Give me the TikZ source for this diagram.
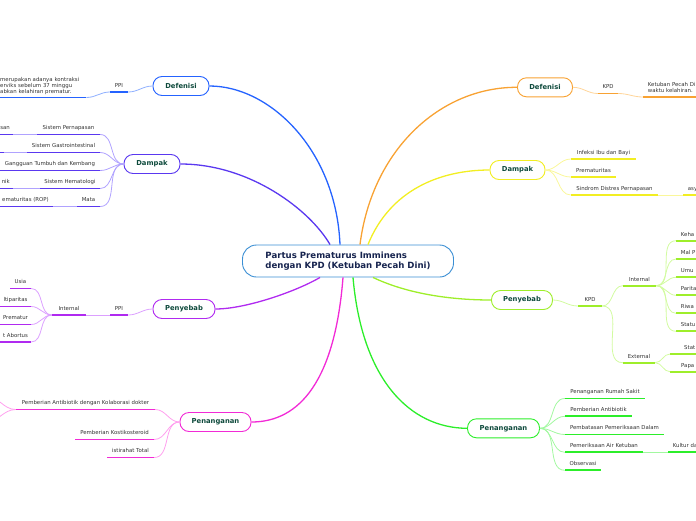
\documentclass[tikz,border=0pt]{standalone}
\usepackage{fontspec}
\setmainfont{DejaVu Sans}
\definecolor{topictext}{HTML}{0E4A3C}
\definecolor{leaftext}{HTML}{333333}
\definecolor{ctrtext}{HTML}{17244F}
\definecolor{ctrline}{HTML}{3B8FD4}
\definecolor{cDefL}{HTML}{2563FF}\definecolor{cDefLt}{HTML}{8FB0FF}
\definecolor{cDampL}{HTML}{5A38F0}\definecolor{cDampLt}{HTML}{B0A2FF}
\definecolor{cPenyL}{HTML}{B02AF0}\definecolor{cPenyLt}{HTML}{DCA0FF}
\definecolor{cPanL}{HTML}{F22AD6}\definecolor{cPanLt}{HTML}{FFA0EE}
\definecolor{cDefR}{HTML}{F8A233}\definecolor{cDefRt}{HTML}{FFD59A}
\definecolor{cDampR}{HTML}{F2EE22}\definecolor{cDampRt}{HTML}{FAF79A}
\definecolor{cPenyR}{HTML}{9EEE2A}\definecolor{cPenyRt}{HTML}{D2FBA0}
\definecolor{cPanR}{HTML}{2CEE2A}\definecolor{cPanRt}{HTML}{A2F8A0}

\begin{document}
\begin{tikzpicture}[x=1pt,y=-1pt,
    topic/.style={draw=#1,fill=white,rounded corners=9pt,minimum height=19pt,line width=0.9pt,font=\fontsize{6.8}{8}\selectfont\bfseries,text=topictext},
    leaf/.style={inner xsep=0pt,inner ysep=3.3pt,text height=3.9pt,text depth=1.2pt,font=\fontsize{5.4}{6}\selectfont,text=leaftext,anchor=south},
    edgeleaf/.style={leaf,anchor=south west,inner xsep=4.7pt,text width=40pt,align=left},
    block/.style={inner ysep=2.6pt,font=\fontsize{5.4}{6}\selectfont,text=leaftext,align=left,anchor=south west},
    ulin/.style={fill=#1,draw=none},
    branch/.style={draw=#1,line width=1.3pt},
    twig/.style={draw=#1,line width=0.8pt}]
        \useasboundingbox (0,0) rectangle (696,520);
        \clip (0,0) rectangle (696,520);

        \node[draw=ctrline,fill=white,line width=0.9pt,rounded corners=14pt,minimum width=211pt,minimum height=32pt,align=left,text=ctrtext,font=\fontsize{8.6}{10}\selectfont\bfseries] (ctr) at (348,261) {Partus Prematurus Imminens\\dengan KPD (Ketuban Pecah Dini)};

        \node[topic=cDefL,minimum width=56pt] (defL) at (181,86) {Defenisi};
        \node[topic=cDampL,minimum width=56pt] (dampL) at (152,164) {Dampak};
        \node[topic=cPenyL,minimum width=62pt] (penyL) at (184,309) {Penyebab};
        \node[topic=cPanL,minimum width=71pt] (panL) at (215.5,422) {Penanganan};
        \node[topic=cDefR,minimum width=55pt] (defR) at (545,87.3) {Defenisi};
        \node[topic=cDampR,minimum width=55pt] (dampR) at (517.5,170) {Dampak};
        \node[topic=cPenyR,minimum width=61pt] (penyR) at (522,300) {Penyebab};
        \node[topic=cPanR,minimum width=72pt] (panR) at (503.5,428.3) {Penanganan};

        \node[leaf,minimum width=18pt] (ppiD) at (119,92) {PPI};
        \node[block,inner xsep=0pt,text width=86pt] (defTxt) at (0,97.5) {merupakan adanya kontraksi\\erviks sebelum 37 minggu\\abkan kelahiran prematur.};

        \node[leaf,minimum width=63pt] (dPern) at (68.5,134.5) {Sistem Pernapasan};
        \node[leaf,anchor=south east,inner xsep=3pt] (dPernX) at (13,134.5) {san};
        \node[leaf,minimum width=73pt] (dGast) at (63.5,152.5) {Sistem Gastrointestinal};
        \node[leaf,minimum width=4pt] (dGastX) at (2,152.5) {};
        \node[leaf,minimum width=100pt] (dGang) at (50,170.5) {Gangguan Tumbuh dan Kembang};
        \node[leaf,minimum width=60pt] (dHema) at (70,188.5) {Sistem Hematologi};
        \node[leaf,anchor=south east,inner xsep=3pt] (dHemaX) at (13,188.5) {nik};
        \node[leaf,minimum width=23pt] (dMata) at (88.5,206.5) {Mata};
        \node[leaf,anchor=south east,inner xsep=4pt] (dMataX) at (53,206.5) {ematuritas (ROP)};

        \node[leaf,minimum width=18pt] (ppiP) at (119,315) {PPI};
        \node[leaf,minimum width=34pt] (intL) at (69,315) {Internal};
        \node[leaf,minimum width=21pt] (pUsia) at (20.5,288.5) {Usia};
        \node[leaf,minimum width=31pt] (pMulti) at (15.5,306.5) {ltiparitas};
        \node[leaf,minimum width=31pt] (pPrem) at (15.5,324.5) {Prematur};
        \node[leaf,minimum width=31pt] (pAbor) at (15.5,342) {t Abortus};

        \node[leaf,minimum width=139pt] (lAnti) at (85.5,409.5) {Pemberian Antibiotik dengan Kolaborasi dokter};
        \node[leaf,minimum width=79pt] (lKorti) at (114.5,439.5) {Pemberian Kostikosteroid};
        \node[leaf,minimum width=47pt] (lIsti) at (130.5,457.5) {istirahat Total};
        \coordinate (offA) at (-14,396);
        \coordinate (offB) at (-14,422);

        \node[leaf,minimum width=20pt] (kpdD) at (608,93.5) {KPD};
        \node[block,inner xsep=4.7pt,inner ysep=4.5pt,text width=60pt] (defRTxt) at (643,97) {Ketuban Pecah Di\\waktu kelahiran.};

        \node[leaf,minimum width=65pt] (rInf) at (603.5,159) {Infeksi Ibu dan Bayi};
        \node[leaf,minimum width=45pt] (rPrem) at (593.5,177) {Prematuritas};
        \node[leaf,minimum width=87pt] (rSind) at (614.5,195) {Sindrom Distres Pernapasan};
        \node[edgeleaf] (rAsy) at (683,195) {asy};

        \node[leaf,minimum width=24pt] (kpdP) at (590,306) {KPD};
        \node[leaf,minimum width=33pt] (intR) at (639.5,285.7) {Internal};
        \node[leaf,minimum width=32pt] (extR) at (639,362.7) {External};
        \node[edgeleaf] (iKeha) at (676,240.7) {Keha};
        \node[edgeleaf] (iMal) at (676,259) {Mal P};
        \node[edgeleaf] (iUmu) at (676,277.3) {Umu};
        \node[edgeleaf] (iPari) at (676,295.3) {Parita};
        \node[edgeleaf] (iRiwa) at (676,313.3) {Riwa};
        \node[edgeleaf] (iStat) at (676,331.3) {Statu};
        \node[edgeleaf,inner xsep=14pt] (eStat) at (670,354) {Stat};
        \node[edgeleaf,inner xsep=11pt] (ePapa) at (670,371.7) {Papa};

        \node[leaf,minimum width=80pt] (tRS) at (605,398.5) {Penanganan Rumah Sakit};
        \node[leaf,minimum width=67pt] (tAnti) at (598.5,416.3) {Pemberian Antibiotik};
        \node[leaf,minimum width=99pt] (tBatas) at (614.5,434.5) {Pembatasan Pemeriksaan Dalam};
        \node[leaf,minimum width=78pt] (tAir) at (604,452.3) {Pemeriksaan Air Ketuban};
        \node[edgeleaf] (tKult) at (668,452.3) {Kultur da};
        \node[leaf,minimum width=36pt] (tObs) at (583,470.3) {Observasi};

        % underlines
        \foreach \n/\c in {ppiD/cDefL,defTxt/cDefL,
                dPern/cDampL,dPernX/cDampL,dGast/cDampL,dGastX/cDampL,dGang/cDampL,dHema/cDampL,dHemaX/cDampL,dMata/cDampL,dMataX/cDampL,
                ppiP/cPenyL,intL/cPenyL,pUsia/cPenyL,pMulti/cPenyL,pPrem/cPenyL,pAbor/cPenyL,
                lAnti/cPanL,lKorti/cPanL,lIsti/cPanL,
                kpdD/cDefR,defRTxt/cDefR,
                rInf/cDampR,rPrem/cDampR,rSind/cDampR,rAsy/cDampR,
                kpdP/cPenyR,intR/cPenyR,extR/cPenyR,iKeha/cPenyR,iMal/cPenyR,iUmu/cPenyR,iPari/cPenyR,iRiwa/cPenyR,iStat/cPenyR,eStat/cPenyR,ePapa/cPenyR,
                tRS/cPanR,tAnti/cPanR,tBatas/cPanR,tAir/cPanR,tKult/cPanR,tObs/cPanR}
            \path[ulin=\c] ([yshift=-0.9pt]\n.south west) rectangle ([yshift=0.9pt]\n.south east);

        \draw[branch=cDefL] ([xshift=-8pt]ctr.north) .. controls (336,150) and (270,86) .. (defL.east);
        \draw[branch=cDampL] ([xshift=-18pt]ctr.north) .. controls (310,210) and (250,164) .. (dampL.east);
        \draw[branch=cPenyL] ([xshift=-28pt]ctr.south) .. controls (295,292) and (245,309) .. (penyL.east);
        \draw[branch=cPanL] ([xshift=-5pt]ctr.south) .. controls (335,380) and (300,422) .. (panL.east);
        \draw[branch=cDefR] ([xshift=12pt]ctr.north) .. controls (372,150) and (440,87) .. (defR.west);
        \draw[branch=cDampR] ([xshift=20pt]ctr.north) .. controls (390,190) and (440,170) .. (dampR.west);
        \draw[branch=cPenyR] ([xshift=25pt]ctr.south) .. controls (410,295) and (455,300) .. (penyR.west);
        \draw[branch=cPanR] ([xshift=5pt]ctr.south) .. controls (362,380) and (410,428) .. (panR.west);

        \draw[twig=cDefLt] (defL.west) to[out=180,in=0] (ppiD.south east);
        \draw[twig=cDefLt] (ppiD.south west) to[out=180,in=0] (defTxt.south east);

        \foreach \n in {dPern,dGast,dGang,dHema,dMata}
            \draw[twig=cDampLt] (dampL.west) to[out=180,in=0] (\n.south east);
        \draw[twig=cDampLt] (dPern.south west) -- (dPernX.south east);
        \draw[twig=cDampLt] (dGast.south west) -- (dGastX.south east);
        \draw[twig=cDampLt] (dHema.south west) -- (dHemaX.south east);
        \draw[twig=cDampLt] (dMata.south west) -- (dMataX.south east);

        \draw[twig=cPenyLt] (penyL.west) to[out=180,in=0] (ppiP.south east);
        \draw[twig=cPenyLt] (ppiP.south west) -- (intL.south east);
        \foreach \n in {pUsia,pMulti,pPrem,pAbor}
            \draw[twig=cPenyLt] (intL.south west) to[out=180,in=0] (\n.south east);

        \foreach \n in {lAnti,lKorti,lIsti}
            \draw[twig=cPanLt] (panL.west) to[out=180,in=0] (\n.south east);
        \draw[twig=cPanLt] (lAnti.south west) to[out=180,in=0] (offA);
        \draw[twig=cPanLt] (lAnti.south west) to[out=180,in=0] (offB);

        \draw[twig=cDefRt] (defR.east) to[out=0,in=180] (kpdD.south west);
        \draw[twig=cDefRt] (kpdD.south east) to[out=0,in=180] (defRTxt.south west);

        \foreach \n in {rInf,rPrem,rSind}
            \draw[twig=cDampRt] (dampR.east) to[out=0,in=180] (\n.south west);
        \draw[twig=cDampRt] (rSind.south east) -- (rAsy.south west);

        \draw[twig=cPenyRt] (penyR.east) to[out=0,in=180] (kpdP.south west);
        \draw[twig=cPenyRt] (kpdP.south east) to[out=0,in=180] (intR.south west);
        \draw[twig=cPenyRt] (kpdP.south east) to[out=0,in=180] (extR.south west);
        \foreach \n in {iKeha,iMal,iUmu,iPari,iRiwa,iStat}
            \draw[twig=cPenyRt] (intR.south east) to[out=0,in=180] (\n.south west);
        \draw[twig=cPenyRt] (extR.south east) to[out=0,in=180] (eStat.south west);
        \draw[twig=cPenyRt] (extR.south east) to[out=0,in=180] (ePapa.south west);

        \foreach \n in {tRS,tAnti,tBatas,tAir,tObs}
            \draw[twig=cPanRt] (panR.east) to[out=0,in=180] (\n.south west);
        \draw[twig=cPanRt] (tAir.south east) -- (tKult.south west);
\end{tikzpicture}
\end{document}
